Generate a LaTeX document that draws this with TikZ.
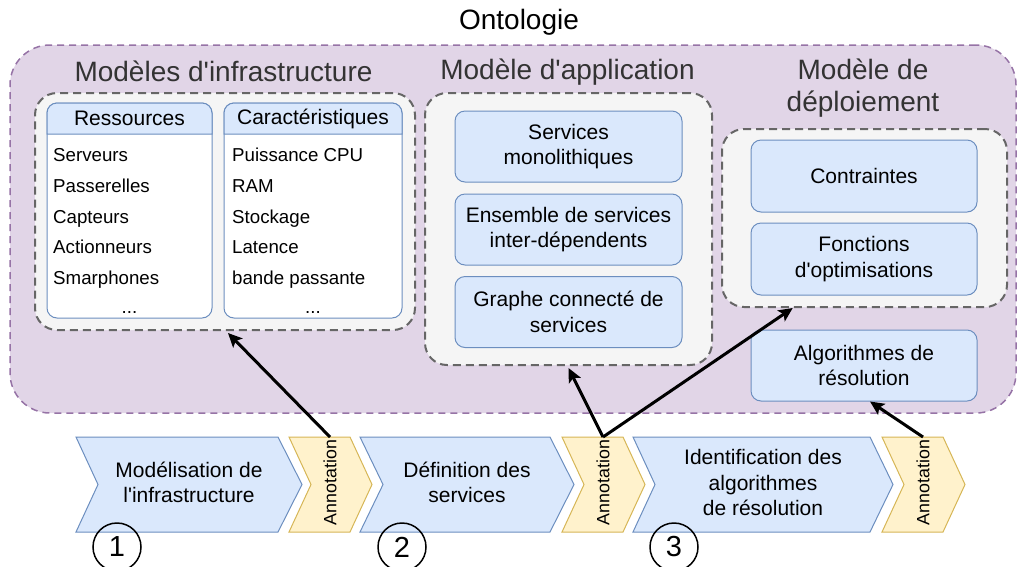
\documentclass[tikz,border=0pt]{standalone}
\usepackage{fontspec}
\setmainfont{Liberation Sans}[Ligatures=TeXOff]
\usetikzlibrary{arrows.meta,calc}
\definecolor{ontofill}{HTML}{E1D5E7}
\definecolor{ontoline}{HTML}{9673A6}
\definecolor{grpfill}{HTML}{F5F5F5}
\definecolor{grpline}{HTML}{666666}
\definecolor{bluefill}{HTML}{DAE8FC}
\definecolor{blueline}{HTML}{6C8EBF}
\definecolor{annfill}{HTML}{FFF2CC}
\definecolor{annline}{HTML}{D6B656}
\definecolor{titlegray}{HTML}{333333}
\begin{document}
\begin{tikzpicture}[x=1pt,y=-1pt,
    every node/.style={font=\fontsize{21}{25.5}\selectfont},
    onto/.style={draw=ontoline,fill=ontofill,line width=1.5pt,dash pattern=on 7pt off 5pt,rounded corners=40pt},
    group/.style={draw=grpline,fill=grpfill,line width=2pt,dash pattern=on 8pt off 5pt,rounded corners=22pt},
    box/.style={draw=blueline,fill=bluefill,line width=1pt,rounded corners=10pt,align=center},
    table/.style={draw=blueline,fill=white,line width=1pt,rounded corners=10pt},
    title/.style={font=\fontsize{28}{32}\selectfont,text=titlegray,align=center},
    item/.style={anchor=base west,inner sep=0pt,font=\fontsize{18.7}{22}\selectfont},
    phase/.style={draw=blueline,fill=bluefill,line width=1pt,line join=miter},
    annot/.style={draw=annline,fill=annfill,line width=1pt,line join=miter},
    num/.style={circle,draw,line width=1.5pt,minimum size=48pt,inner sep=0pt,font=\fontsize{29}{32}\selectfont},
    link/.style={line width=3pt,-{Stealth[length=14pt,width=13pt,inset=3pt]}}]
\useasboundingbox (0,0) rectangle (1019,566);
% ontologie
\node[onto,minimum width=1006,minimum height=368] (onto) at (513,229) {};
\node (ontotitle) at (519,22) {\fontsize{28}{32}\selectfont Ontologie};
% infrastructure
\node[title] (infratitle) at (223.5,71) {Modèles d'infrastructure};
\node[group,minimum width=380,minimum height=237] (infra) at (225,211.5) {};
\node[table,minimum width=165,minimum height=215] (res) at (129.5,210.5) {};
\node[table,minimum width=178,minimum height=215] (car) at (313,210.5) {};
\draw[draw=blueline,fill=bluefill,line width=1pt] (47,134) [rounded corners=10pt] -- (47,103) -- (212,103) [sharp corners] -- (212,134) -- cycle;
\draw[draw=blueline,fill=bluefill,line width=1pt] (224,134) [rounded corners=10pt] -- (224,103) -- (402,103) [sharp corners] -- (402,134) -- cycle;
\node (reshead) at (129.5,118.5) {Ressources};
\node (carhead) at (313,118.5) {Caractéristiques};
\node[item] (r1) at (53,161.7) {Serveurs};
\node[item] (r2) at (53,192.4) {Passerelles};
\node[item] (r3) at (53,223.1) {Capteurs};
\node[item] (r4) at (53,253.8) {Actionneurs};
\node[item] (r5) at (53,284.5) {Smarphones};
\node[item,anchor=base] (r6) at (129.5,313) {...};
\node[item] (c1) at (232,161.7) {Puissance CPU};
\node[item] (c2) at (232,192.4) {RAM};
\node[item] (c3) at (232,223.1) {Stockage};
\node[item] (c4) at (232,253.8) {Latence};
\node[item] (c5) at (232,284.5) {bande passante};
\node[item,anchor=base] (c6) at (313,313) {...};
% application
\node[title] (apptitle) at (567.5,72) {Modèle d'application};
\node[group,minimum width=287,minimum height=272] (app) at (568.5,229) {};
\node[box,minimum width=227,minimum height=71] (mono) at (568.5,146.5) {Services\\monolithiques};
\node[box,minimum width=227,minimum height=71] (inter) at (568.5,229.5) {Ensemble de services\\inter-dépendents};
\node[box,minimum width=227,minimum height=71] (graphe) at (568.5,312) {Graphe connecté de\\services};
% deploiement
\node[title] (deptitle) at (863,88) {Modèle de\\déploiement};
\node[group,minimum width=285,minimum height=178] (deploy) at (864.5,218) {};
\node[box,minimum width=226,minimum height=72] (contr) at (864,176) {Contraintes};
\node[box,minimum width=226,minimum height=72] (fonct) at (864,259) {Fonctions\\d'optimisations};
\node[box,minimum width=226,minimum height=71] (algo) at (864,365.5) {Algorithmes de\\résolution};
% etapes
\draw[phase] (76,437) -- (278,437) -- (302,484.5) -- (278,532) -- (76,532) -- (98,484.5) -- cycle;
\draw[annot] (289,437) -- (350,437) -- (372,484.5) -- (350,532) -- (289,532) -- (311,484.5) -- cycle;
\draw[phase] (360,437) -- (550,437) -- (574,484.5) -- (550,532) -- (360,532) -- (383,484.5) -- cycle;
\draw[annot] (562,437) -- (623,437) -- (645,484.5) -- (623,532) -- (562,532) -- (584,484.5) -- cycle;
\draw[phase] (633,437) -- (870,437) -- (893,484.5) -- (870,532) -- (633,532) -- (655,484.5) -- cycle;
\draw[annot] (882,437) -- (943,437) -- (965,484.5) -- (943,532) -- (882,532) -- (904,484.5) -- cycle;
\node[align=center] (modinfra) at (189,482.5) {Modélisation de\\l'infrastructure};
\node[align=center] (defserv) at (467,482.5) {Définition des\\services};
\node[align=center] (identalgo) at (763,482.5) {Identification des\\algorithmes\\de résolution};
\node[rotate=90,font=\fontsize{17.8}{20}\selectfont] (ann1) at (330,482.5) {Annotation};
\node[rotate=90,font=\fontsize{17.8}{20}\selectfont] (ann2) at (603,482.5) {Annotation};
\node[rotate=90,font=\fontsize{17.8}{20}\selectfont] (ann3) at (923,482.5) {Annotation};
\coordinate (ann1top) at (330,437);
\coordinate (ann2top) at (603,437);
\coordinate (ann3top) at (923,437);
\node[num] (n1) at (117,547) {1};
\node[num] (n2) at (402,547) {2};
\node[num] (n3) at (674,547) {3};
% liens
\draw[link] (ann1top) -- ([xshift=3pt,yshift=-2pt]infra.south);
\draw[link] (ann2top) -- ([yshift=-2pt]app.south);
\draw[link] (ann2top) -- ($(deploy.south west)!0.25!(deploy.south east)$);
\draw[link] (ann3top) -- ([xshift=6pt]algo.south);
\end{tikzpicture}
\end{document}
